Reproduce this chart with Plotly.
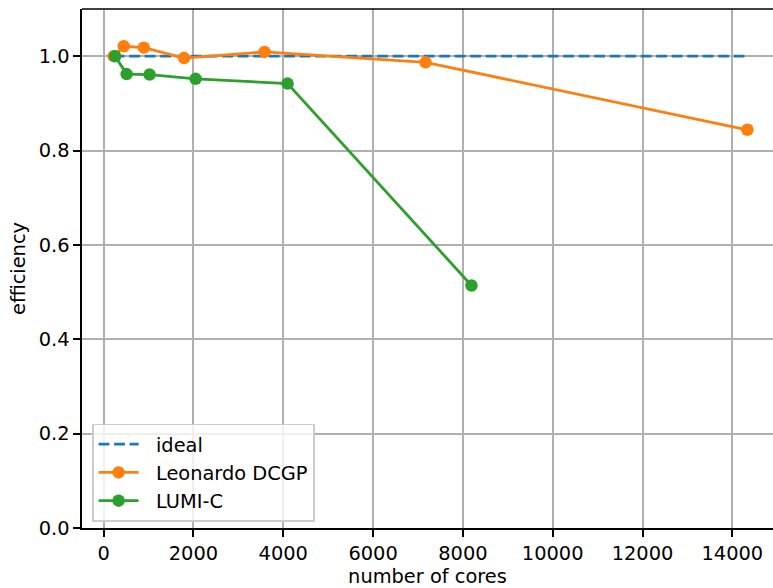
import plotly.graph_objects as go

# Strong-scaling efficiency measurements
leonardo_cores = [224, 448, 896, 1792, 3584, 7168, 14336]
leonardo_eff = [1.0, 1.021, 1.018, 0.996, 1.009, 0.987, 0.844]

lumi_cores = [256, 512, 1024, 2048, 4096, 8192]
lumi_eff = [1.0, 0.962, 0.961, 0.952, 0.942, 0.514]

ideal_cores = [224, 14336]
ideal_eff = [1.0, 1.0]

x_ticks = [0, 2000, 4000, 6000, 8000, 10000, 12000, 14000]
y_ticks = [0.0, 0.2, 0.4, 0.6, 0.8, 1.0]

BLUE, ORANGE, GREEN = "#1f77b4", "#ff7f0e", "#2ca02c"
FONT = "DejaVu Sans"
FS = 19.4
LW = 2.8
PAD = "\u00a0\u00a0"  # extra gap between legend handle and label

fig = go.Figure()
fig.add_trace(go.Scatter(
    x=ideal_cores, y=ideal_eff, mode="lines", name=PAD + "ideal",
    line=dict(color=BLUE, width=LW, dash="10.8px,4.7px"),
))
fig.add_trace(go.Scatter(
    x=leonardo_cores, y=leonardo_eff, mode="lines+markers", name=PAD + "Leonardo DCGP",
    line=dict(color=ORANGE, width=LW),
    marker=dict(color=ORANGE, size=12.5, line=dict(width=0)),
))
fig.add_trace(go.Scatter(
    x=lumi_cores, y=lumi_eff, mode="lines+markers", name=PAD + "LUMI-C",
    line=dict(color=GREEN, width=LW),
    marker=dict(color=GREEN, size=12.5, line=dict(width=0)),
))

axis_common = dict(
    showgrid=True, gridcolor="#b0b0b0", gridwidth=1.6,
    zeroline=False, showline=True, linecolor="black", linewidth=1.6,
    ticks="outside", ticklen=6.8, tickwidth=1.6, tickcolor="black",
    tickfont=dict(family=FONT, size=FS, color="black"),
)

fig.update_xaxes(
    range=[-481.6, 14906], tickvals=x_ticks, tickformat="d",
    title=dict(text="number of cores", font=dict(family=FONT, size=FS, color="black"), standoff=7),
    **axis_common,
)
fig.update_yaxes(
    range=[0, 1.1], tickvals=y_ticks, tickformat=".1f",
    title=dict(text="efficiency", font=dict(family=FONT, size=FS, color="black"), standoff=8),
    **axis_common,
)

# top spine
fig.add_shape(type="line", xref="paper", yref="paper", x0=0, x1=1, y0=1, y1=1,
              line=dict(color="black", width=1.6))

fig.update_layout(
    width=773, height=588,
    margin=dict(l=82, r=0, t=9, b=60),
    plot_bgcolor="white", paper_bgcolor="white",
    font=dict(family=FONT, size=FS, color="black"),
    legend=dict(
        x=0.0145, y=0.0125, xanchor="left", yanchor="bottom",
        bgcolor="rgba(255,255,255,0.8)", bordercolor="#cccccc", borderwidth=1.6,
        font=dict(family=FONT, size=FS, color="black"),
        itemwidth=40,
    ),
)

fig.write_html("out.html")
